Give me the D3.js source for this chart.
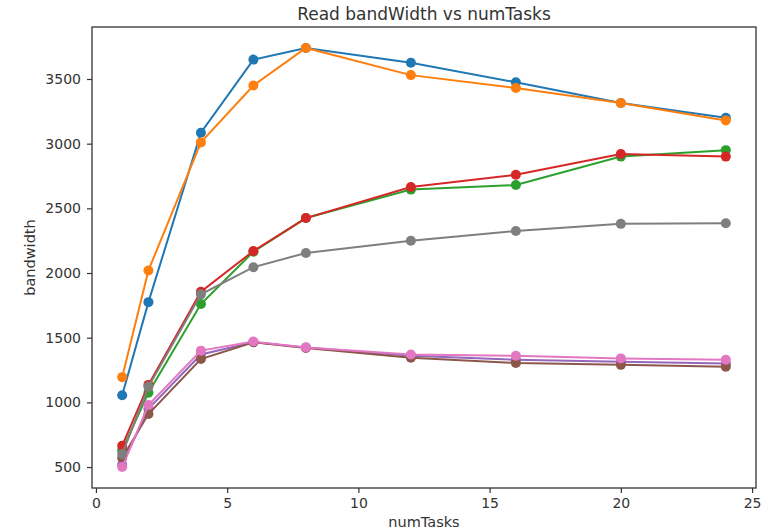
<!DOCTYPE html>
<html>
<head>
<meta charset="utf-8">
<script src="https://d3js.org/d3.v7.min.js"></script>
<style>
  body { margin: 0; background: #fff; }
  text { font-family: "DejaVu Sans", sans-serif; }
</style>
</head>
<body>
<div id="chart"></div>
<script>
// numTasks on the x axis
const numTasks = [1, 2, 4, 6, 8, 12, 16, 20, 24];

// bandwidth values per series
const blueValues   = [1055, 1775, 3085, 3650, 3740, 3625, 3475, 3315, 3200];
const orangeValues = [1195, 2020, 3010, 3450, 3740, 3530, 3430, 3315, 3180];
const greenValues  = [630, 1075, 1760, 2165, 2425, 2645, 2680, 2900, 2950];
const redValues    = [665, 1135, 1855, 2170, 2425, 2665, 2760, 2920, 2900];
const purpleValues = [520, 950, 1370, 1465, 1425, 1360, 1330, 1315, 1300];
const brownValues  = [570, 910, 1335, 1465, 1420, 1345, 1305, 1290, 1275];
const pinkValues   = [500, 980, 1400, 1470, 1425, 1370, 1360, 1340, 1330];
const grayValues   = [600, 1120, 1835, 2045, 2155, 2250, 2325, 2380, 2385];

const xTicks = [0, 5, 10, 15, 20, 25];
const yTicks = [500, 1000, 1500, 2000, 2500, 3000, 3500];

const seriesList = [
  { values: blueValues,   color: "#1f77b4" },
  { values: orangeValues, color: "#ff7f0e" },
  { values: greenValues,  color: "#2ca02c" },
  { values: redValues,    color: "#d62728" },
  { values: purpleValues, color: "#9467bd" },
  { values: brownValues,  color: "#8c564b" },
  { values: pinkValues,   color: "#e377c2" },
  { values: grayValues,   color: "#7f7f7f" }
];

const width = 769, height = 532;
const margin = { top: 27, right: 13, bottom: 44, left: 92 };

const svg = d3.select("#chart").append("svg")
  .attr("width", width)
  .attr("height", height);

// matplotlib style 5% padding around the data
const xPad = (24 - 1) * 0.05;
const x = d3.scaleLinear()
  .domain([1 - xPad, 24 + xPad])
  .range([margin.left, width - margin.right]);

const allValues = seriesList.flatMap(s => s.values);
const yMin = d3.min(allValues), yMax = d3.max(allValues);
const yPad = (yMax - yMin) * 0.05;
const y = d3.scaleLinear()
  .domain([yMin - yPad, yMax + yPad])
  .range([height - margin.bottom, margin.top]);

// axes
const xAxis = svg.append("g")
  .attr("transform", `translate(0,${height - margin.bottom})`)
  .call(d3.axisBottom(x).tickValues(xTicks).tickSize(5).tickPadding(5).tickFormat(d3.format("d")));

const yAxis = svg.append("g")
  .attr("transform", `translate(${margin.left},0)`)
  .call(d3.axisLeft(y).tickValues(yTicks).tickSize(5).tickPadding(6).tickFormat(d3.format("d")));

[xAxis, yAxis].forEach(ax => {
  ax.select(".domain").remove();
  ax.selectAll(".tick line").attr("stroke", "#333").attr("stroke-width", 1.2);
  ax.selectAll(".tick text").attr("fill", "#333").style("font-size", "14px");
});

// frame
svg.append("rect")
  .attr("x", margin.left)
  .attr("y", margin.top)
  .attr("width", width - margin.left - margin.right)
  .attr("height", height - margin.top - margin.bottom)
  .attr("fill", "none")
  .attr("stroke", "#333")
  .attr("stroke-width", 1.3);

// lines and markers
const line = d3.line()
  .x((d, i) => x(numTasks[i]))
  .y(d => y(d));

seriesList.forEach(s => {
  const g = svg.append("g");
  g.append("path")
    .datum(s.values)
    .attr("d", line)
    .attr("fill", "none")
    .attr("stroke", s.color)
    .attr("stroke-width", 2);
  g.selectAll("circle")
    .data(s.values)
    .join("circle")
    .attr("cx", (d, i) => x(numTasks[i]))
    .attr("cy", d => y(d))
    .attr("r", 5)
    .attr("fill", s.color);
});

// labels
svg.append("text")
  .attr("x", (margin.left + width - margin.right) / 2)
  .attr("y", 20)
  .attr("text-anchor", "middle")
  .attr("fill", "#333")
  .style("font-size", "17px")
  .text("Read bandWidth vs numTasks");

svg.append("text")
  .attr("x", (margin.left + width - margin.right) / 2)
  .attr("y", 527)
  .attr("text-anchor", "middle")
  .attr("fill", "#333")
  .style("font-size", "14.5px")
  .text("numTasks");

svg.append("text")
  .attr("transform", `translate(35,${(margin.top + height - margin.bottom) / 2}) rotate(-90)`)
  .attr("text-anchor", "middle")
  .attr("fill", "#333")
  .style("font-size", "14.5px")
  .text("bandwidth");
</script>
</body>
</html>
